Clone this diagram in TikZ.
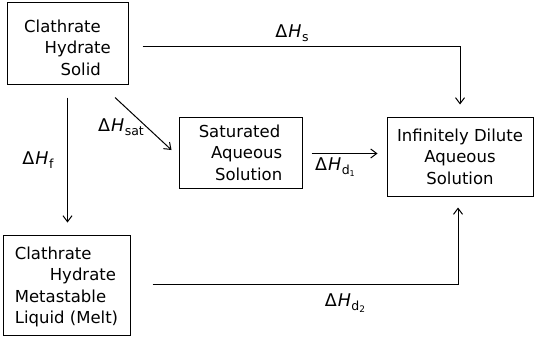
\documentclass[tikz,border=0pt]{standalone}
\usepackage{fontspec}
\setmainfont{DejaVu Sans}
\usetikzlibrary{calc,arrows.meta,positioning}

\newcommand{\boxfont}{\fontsize{16.5}{21.5}\selectfont}
\newcommand{\lblfont}{\fontsize{17.5}{20}\selectfont}
% enthalpy symbol with subscript
\newcommand{\dH}[1]{Δ\kern1pt\textit{H}\kern0.5pt\raisebox{-0.4ex}{\fontsize{12.5}{13}\selectfont #1}}

\begin{document}
\begin{tikzpicture}[x=1pt, y=-1pt,
		box/.style={draw, line width=1pt, inner sep=0pt, font=\boxfont},
		flow/.style={line width=1pt, -{Straight Barb[length=6pt,width=9pt]}},
		lbl/.style={font=\lblfont, inner sep=0pt}]

	\useasboundingbox (0,0) rectangle (535,337);

	% ================= states =================
	\node[box, minimum width=121pt, minimum height=81pt, align=right] (solid) at (67.5,43.5)
		{\rule{0pt}{21pt}Clathrate\hspace*{10pt}\\Hydrate\hspace*{10pt}\\Solid\hspace*{10pt}};
	\node[box, minimum width=123pt, minimum height=71pt, align=right] (sat) at (240.5,152.5)
		{Saturated\hspace*{2pt}\\Aqueous\\Solution};
	\node[box, minimum width=146pt, minimum height=79pt, align=center] (dilute) at (460,156.5)
		{Infinitely Dilute\\Aqueous\\Solution};
	\node[box, minimum width=127pt, minimum height=100pt, align=left] (melt) at (66.5,285)
		{\rule{0pt}{16pt}Clathrate\\\hspace*{35pt}Hydrate\\Metastable\\Liquid (Melt)};

	% ================= paths =================
	% direct solution
	\draw[flow, shorten >=12pt] ([xshift=14pt,yshift=-3.5pt]solid.east) -| (dilute.north);
	\node[lbl] (hs) at (292,33) {\dH{s}};

	% saturation
	\draw[flow] ($(solid.south)+(47.5,13)$) -- ($(sat.west)+(-7,-2.5)$);
	\node[lbl] (hsat) at (121,127) {\dH{sat}};

	% dilution of the saturated solution
	\draw[flow, shorten <=9pt, shorten >=9pt] ([yshift=-1pt]sat.east) -- ([yshift=-1pt]sat.east -| dilute.west);
	\node[lbl] (hd1) at (335,167) {\dH{d\raisebox{-0.25ex}{\fontsize{8}{9}\selectfont 1}}};

	% fusion
	\draw[flow, shorten <=13pt, shorten >=12pt] (solid.south) -- (solid.south |- melt.north);
	\node[lbl] (hf) at (38,160) {\dH{f}};

	% dilution of the melt
	\draw[flow, shorten >=11pt] ([xshift=22pt,yshift=1pt]melt.east) -| ([xshift=-2pt]dilute.south);
	\node[lbl] (hd2) at (345,303) {\dH{d\raisebox{-0.25ex}{\fontsize{9}{10}\selectfont 2}}};

\end{tikzpicture}
\end{document}
